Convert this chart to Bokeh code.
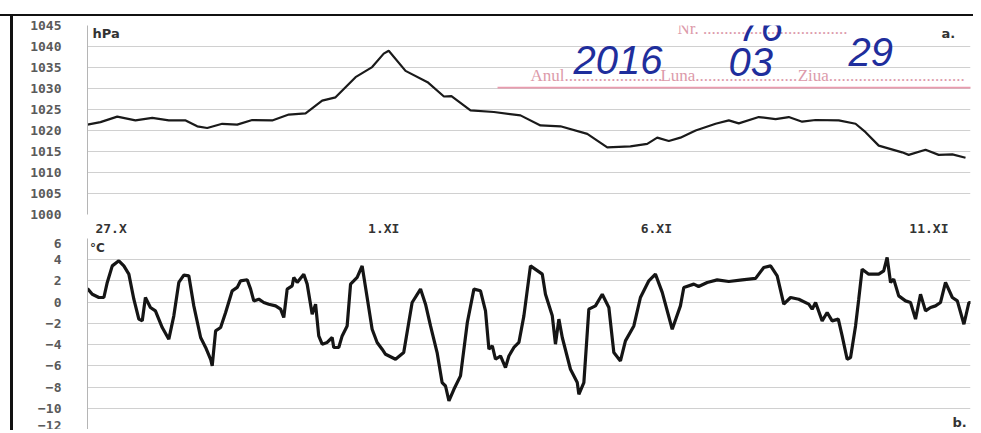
from bokeh.plotting import figure
from bokeh.models import FixedTicker, Label, BoxAnnotation, Spacer, Range1d
from bokeh.layouts import column, row
from bokeh.embed import file_html
from bokeh.resources import INLINE

# ---------------- data (hours since 27.X 00:00) ----------------
p_hours = [-10.4, -4.7, 2.7, 10.7, 18.1, 25.4, 32.8, 37.9, 42.3, 48.9, 55.5, 62.1, 70.9, 78.2,
           85.6, 92.9, 98.8, 107.6, 114.9, 120.0, 122.2, 129.6, 139.3, 146.5, 149.8, 158.2,
           168.5, 180.2, 189.0, 197.8, 209.6, 218.4, 228.6, 236.0, 240.4, 245.5, 250.6, 257.3,
           266.1, 271.9, 276.3, 285.1, 292.5, 298.3, 304.2, 310.1, 320.3, 327.7, 332.1, 337.9,
           348.2, 351.1, 358.5, 364.3, 370.3, 376.1]
p_hpa = [1021.4, 1022.0, 1023.3, 1022.4, 1023.0, 1022.4, 1022.4, 1021.0, 1020.6, 1021.6, 1021.4,
         1022.5, 1022.4, 1023.8, 1024.1, 1027.1, 1027.9, 1032.7, 1035.1, 1038.3, 1039.0, 1034.2,
         1031.5, 1028.1, 1028.2, 1024.8, 1024.4, 1023.6, 1021.2, 1021.0, 1019.2, 1016.0, 1016.2,
         1016.8, 1018.3, 1017.5, 1018.3, 1020.0, 1021.6, 1022.4, 1021.7, 1023.2, 1022.7, 1023.2,
         1022.1, 1022.5, 1022.4, 1021.6, 1019.6, 1016.4, 1014.8, 1014.2, 1015.4, 1014.2, 1014.3,
         1013.5]

t_hours = [-10.4, -8.3, -5.4, -3.2, -1.7, 0.5, 3.4, 5.6, 7.8, 10.0, 12.2, 13.7, 15.1, 17.3, 19.5,
           22.5, 25.4, 27.6, 29.8, 32.0, 34.2, 36.4, 39.4, 41.6, 43.8, 44.5, 46.0, 48.2, 50.4,
           53.3, 55.5, 57.0, 59.9, 61.4, 62.8, 65.0, 67.2, 69.4, 72.4, 74.6, 76.0, 77.5, 79.7,
           80.4, 81.9, 84.8, 86.3, 88.5, 90.0, 91.4, 92.9, 95.1, 97.3, 98.0, 100.2, 101.7, 103.9,
           105.4, 108.3, 110.5, 112.7, 114.9, 117.1, 119.3,
           120.8, 125.2, 128.8, 132.5, 136.2, 138.4, 140.6, 143.5, 145.7, 147.2, 148.7, 150.9,
           153.8, 156.8, 159.7, 162.6, 164.8, 166.3, 167.8, 169.2, 171.4, 173.6, 175.1, 177.3,
           179.5, 181.7, 184.6, 189.8, 191.2, 194.2, 195.6, 197.1, 198.6, 202.2, 205.2, 205.9,
           208.1, 210.3, 213.2, 216.2, 219.1, 221.3, 224.2, 226.4, 230.1, 233.0, 236.7, 239.6,
           242.6, 247.0,
           250.6, 252.1, 256.5, 258.6, 262.4, 266.8, 271.9, 277.8, 283.7, 287.3, 290.3, 293.2,
           296.1, 299.1, 302.7, 307.1, 308.6, 310.1, 313.0, 315.2, 317.4, 320.1, 321.8, 324.0,
           325.5, 327.7, 329.1, 330.6, 333.5, 337.9, 340.1, 341.6, 343.1, 344.5, 346.7, 349.7,
           351.9, 354.1, 356.3, 358.5, 360.7, 362.9, 365.1, 367.3, 370.3, 372.5, 375.4, 377.6,
           379.1]
t_degc = [1.29, 0.75, 0.44, 0.44, 1.86, 3.42, 3.9, 3.42, 2.64, 0.28, -1.6, -1.76, 0.44, -0.5,
          -0.82, -2.39, -3.49, -1.29, 1.86, 2.55, 2.48, -0.35, -3.33, -4.27, -5.38, -6.01, -2.71,
          -2.39, -0.97, 1.07, 1.39, 2.01, 2.11, 1.23, 0.12, 0.28, -0.03, -0.19, -0.35, -0.66,
          -1.44, 1.23, 1.54, 2.33, 1.86, 2.64, 1.7, -1.13, -0.19, -3.18, -3.96, -3.8, -3.33,
          -4.27, -4.27, -3.18, -2.24, 1.7, 2.33, 3.42, 0.44, -2.55, -3.8, -4.43,
          -4.91, -5.38, -4.75, -0.03, 1.23, -0.19, -2.24, -4.75, -7.58, -7.9, -9.31, -8.21,
          -6.95, -1.92, 1.23, 1.07, -0.82, -4.43, -4.12, -5.38, -5.07, -6.16, -5.07, -4.27,
          -3.8, -1.29, 3.42, 2.64, 0.75, -1.29, -3.96, -1.6, -3.33, -6.32, -7.58, -8.68,
          -7.58, -0.66, -0.35, 0.75, -0.5, -4.75, -5.54, -3.65, -2.24, 0.44, 2.01, 2.64,
          0.92, -2.55,
          -0.35, 1.39, 1.7, 1.48, 1.86, 2.1, 1.95, 2.1, 2.24, 3.27, 3.42, 2.48,
          -0.19, 0.44, 0.28, -0.19, -0.66, -0.03, -1.76, -0.97, -1.76, -1.6, -3.18, -5.38,
          -5.22, -2.24, 0.28, 3.11, 2.64, 2.64, 2.95, 4.22, 1.86, 2.17, 0.59, 0.12,
          -0.03, -1.6, 0.75, -0.82, -0.5, -0.35, -0.03, 1.86, 0.44, 0.12, -2.08, -0.03,
          -0.03]

x_ticks = [0, 120, 240, 360]
x_tick_labels = ["27.X", "1.XI", "6.XI", "11.XI"]
p_ticks = [1000, 1005, 1010, 1015, 1020, 1025, 1030, 1035, 1040, 1045]
t_ticks = [-12, -10, -8, -6, -4, -2, 0, 2, 4, 6]

X0, X1 = -10.4, 378.3
FW = 883
TICK_FONT = "DejaVu Sans Mono"


def style(p, ticks):
    p.outline_line_color = None
    p.background_fill_color = "white"
    p.border_fill_color = "white"
    p.xgrid.visible = False
    p.ygrid.grid_line_color = "#d0d0d0"
    p.ygrid.grid_line_width = 1
    p.yaxis.ticker = FixedTicker(ticks=ticks)
    p.yaxis.axis_line_color = "#b5b5b5"
    p.yaxis.major_tick_line_color = None
    p.yaxis.minor_tick_line_color = None
    p.yaxis.major_tick_out = 0
    p.yaxis.major_tick_in = 0
    p.yaxis.major_label_standoff = 26
    p.yaxis.major_label_text_font = TICK_FONT
    p.yaxis.major_label_text_font_style = "bold"
    p.yaxis.major_label_text_font_size = "13px"
    p.yaxis.major_label_text_color = "#5a5a5a"


# ---------------- top panel: pressure ----------------
p1 = figure(frame_width=FW, frame_height=189, output_backend="svg", toolbar_location=None,
            x_range=Range1d(X0, X1), y_range=Range1d(1000, 1045),
            min_border_left=74, min_border_right=3, min_border_top=9, min_border_bottom=19)
style(p1, p_ticks)
p1.xaxis.ticker = FixedTicker(ticks=x_ticks)
p1.xaxis.major_label_overrides = {t: l for t, l in zip(x_ticks, x_tick_labels)}
p1.xaxis.axis_line_color = None
p1.xaxis.major_tick_line_color = None
p1.xaxis.minor_tick_line_color = None
p1.xaxis.major_tick_out = 0
p1.xaxis.major_tick_in = 0
p1.xaxis.major_label_standoff = 6
p1.xaxis.major_label_text_font = TICK_FONT
p1.xaxis.major_label_text_font_style = "bold"
p1.xaxis.major_label_text_font_size = "13px"
p1.xaxis.major_label_text_color = "#333333"

p1.line(p_hours, p_hpa, line_color="#1a1a1a", line_width=2.2)

p1.add_layout(Label(x=-8.2, y=1044.9, text="hPa", text_font="DejaVu Sans",
                    text_font_style="bold", text_font_size="13px", text_color="#333333",
                    text_baseline="top", text_align="left"))
p1.add_layout(Label(x=365.5, y=1043.0, text="a.", text_font="DejaVu Sans",
                    text_font_style="bold", text_font_size="13px", text_color="#333333",
                    text_baseline="middle", text_align="left"))

# stamp (pink print) with handwritten entries (blue)
STAMP = "#dc9aaa"
INK = "#1f2e9c"
p1.add_layout(BoxAnnotation(left=170.1, right=400, bottom=1030.0, top=1030.4,
                            fill_color="#e58aa0", fill_alpha=0.85, line_color=None))
for tx, ty, txt in [(184.6, 1033.1, "Anul......................."),
                    (241.8, 1033.1, "Luna........................"),
                    (302.2, 1033.1, "Ziua................................"),
                    (249.3, 1044.2, "Nr. ..................................")]:
    p1.add_layout(Label(x=tx, y=ty, text=txt, text_font="Liberation Serif",
                        text_font_size="17px", text_color=STAMP, text_baseline="middle"))
for tx, ty, txt in [(203.5, 1036.7, "2016"), (271.8, 1036.2, "03"),
                    (324.6, 1038.6, "29"), (276.2, 1044.6, "76")]:
    p1.add_layout(Label(x=tx, y=ty, text=txt, text_font="Liberation Sans",
                        text_font_style="italic", text_font_size="40px", text_color=INK,
                        text_baseline="middle"))

# ---------------- bottom panel: temperature ----------------
p2 = figure(frame_width=FW, frame_height=191, output_backend="svg", toolbar_location=None,
            x_range=p1.x_range, y_range=Range1d(-12, 6),
            min_border_left=74, min_border_right=3, min_border_top=0, min_border_bottom=0)
style(p2, t_ticks)
p2.xaxis.visible = False
p2.line(t_hours, t_degc, line_color="#151515", line_width=3.2)

p2.add_layout(Label(x=-9.3, y=5.8, text="°C", text_font="DejaVu Sans",
                    text_font_style="bold", text_font_size="12px", text_color="#333333",
                    text_baseline="top", text_align="left"))
p2.add_layout(Label(x=370.4, y=-11.3, text="b.", text_font="DejaVu Sans",
                    text_font_style="bold", text_font_size="13px", text_color="#333333",
                    text_baseline="middle", text_align="left"))

# ---------------- page frame (scan edges) ----------------
root = column(
    Spacer(width=973, height=14),
    Spacer(width=973, height=2, styles={"background-color": "#111111"}),
    row(Spacer(width=10, height=414),
        Spacer(width=3, height=414, styles={"background-color": "#111111"}),
        column(p1, p2)),
)

open("out.html", "w").write(file_html(root, INLINE))
